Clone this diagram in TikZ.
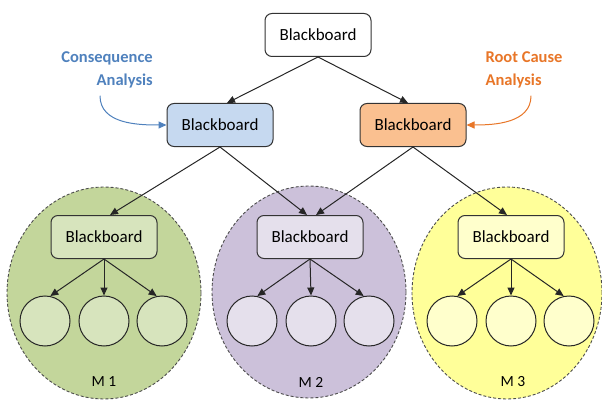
\documentclass[tikz,border=0pt]{standalone}
\usepackage{fontspec}
\setmainfont{Carlito}
\usetikzlibrary{arrows.meta,shapes.geometric}
\definecolor{consfill}{RGB}{198,217,240}
\definecolor{rcfill}{RGB}{250,192,144}
\definecolor{mgreen}{RGB}{195,214,155}
\definecolor{mgreenin}{RGB}{215,228,189}
\definecolor{mpurple}{RGB}{204,193,218}
\definecolor{mpurplein}{RGB}{229,224,236}
\definecolor{myellow}{RGB}{255,255,153}
\definecolor{myellowin}{RGB}{255,255,204}
\definecolor{consblue}{RGB}{79,129,189}
\definecolor{rcorange}{RGB}{232,118,40}

\begin{document}
\begin{tikzpicture}[
    x=1pt, y=-1pt,
    bb/.style={draw=black!80, line width=1pt, rounded corners=7pt, minimum width=106pt, minimum height=43pt, font=\fontsize{17}{20}\selectfont},
    leaf/.style={circle, draw=black!85, line width=1pt, minimum size=50pt},
    module/.style={ellipse, draw=black!70, dash pattern=on 3pt off 2pt, line width=0.9pt, minimum width=194pt, minimum height=212pt},
    link/.style={line width=1pt, black!85, -{Triangle[length=8pt,width=7pt]}},
    note/.style={font=\fontsize{16.5}{23}\selectfont\bfseries},
    noteArrow/.style={line width=1pt, -{Triangle[length=8pt,width=7pt]}}
    ]
    \useasboundingbox (0,0) rectangle (602,401);
    \node[module, fill=mgreen] (m1) at (104,293) {};
    \node[module, fill=mpurple] (m2) at (309,292) {};
    \node[module, fill=myellow, minimum width=190pt] (m3) at (507,293) {};
    \node[font=\fontsize{15.5}{18}\selectfont] (m1lab) at (104,382) {M 1};
    \node[font=\fontsize{15.5}{18}\selectfont] (m2lab) at (311,382) {M 2};
    \node[font=\fontsize{15.5}{18}\selectfont] (m3lab) at (513,382) {M 3};
    \node[bb, fill=white] (root) at (318,35) {Blackboard};
    \node[bb, fill=consfill] (bbL) at (220,125) {Blackboard};
    \node[bb, fill=rcfill] (bbR) at (413,125) {Blackboard};
    \node[bb, fill=mgreenin] (bb1) at (104,237) {Blackboard};
    \node[bb, fill=mpurplein] (bb2) at (310,237) {Blackboard};
    \node[bb, fill=myellowin] (bb3) at (511,237) {Blackboard};
    \node[leaf, fill=mgreenin] (c11) at (45,321) {};
    \node[leaf, fill=mgreenin] (c12) at (104,321) {};
    \node[leaf, fill=mgreenin] (c13) at (162,321) {};
    \node[leaf, fill=mpurplein] (c21) at (252,321) {};
    \node[leaf, fill=mpurplein] (c22) at (311,321) {};
    \node[leaf, fill=mpurplein] (c23) at (369,321) {};
    \node[leaf, fill=myellowin] (c31) at (452,321) {};
    \node[leaf, fill=myellowin] (c32) at (511,321) {};
    \node[leaf, fill=myellowin] (c33) at (569,321) {};
    \node[note, consblue, align=right] (conseq) at (107,70) {Consequence\\Analysis};
    \node[note, rcorange, align=left] (rootcause) at (524,70) {Root Cause\\Analysis};
    \draw[noteArrow, consblue] ([xshift=-7pt,yshift=-4pt]conseq.south) to[out=-90,in=180] (bbL.west);
    \draw[noteArrow, rcorange] ([xshift=7pt,yshift=-4pt]rootcause.south) to[out=-90,in=0] (bbR.east);
    \draw[link] (root.south) -- ([xshift=7pt]bbL.north);
    \draw[link] (root.south) -- ([xshift=-5pt]bbR.north);
    \draw[link] (bbL.south) -- ([xshift=6pt]bb1.north);
    \draw[link] (bbL.south) -- ([xshift=-3pt]bb2.north);
    \draw[link] (bbR.south) -- ([xshift=6pt]bb2.north);
    \draw[link] (bbR.south) -- ([xshift=-4pt]bb3.north);
    \draw[link] (bb1.south) -- (c11.78);
    \draw[link] (bb1.south) -- (c12.north);
    \draw[link] (bb1.south) -- (c13.102);
    \draw[link] (bb2.south) -- (c21.78);
    \draw[link] (bb2.south) -- (c22.north);
    \draw[link] (bb2.south) -- (c23.102);
    \draw[link] (bb3.south) -- (c31.78);
    \draw[link] (bb3.south) -- (c32.north);
    \draw[link] (bb3.south) -- (c33.102);
  \end{tikzpicture}
\end{document}
